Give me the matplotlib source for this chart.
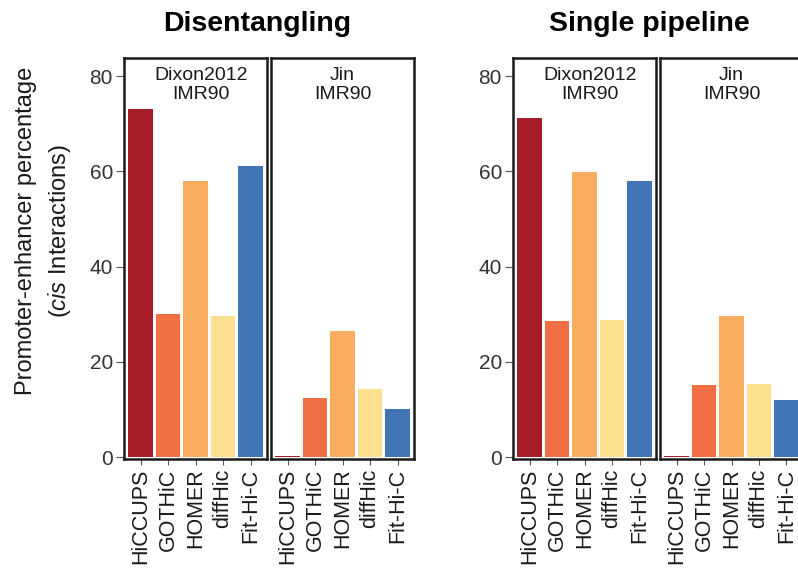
import matplotlib
matplotlib.use("Agg")
import matplotlib.pyplot as plt

plt.rcParams['font.family'] = ['Liberation Sans', 'DejaVu Sans']
plt.rcParams['mathtext.fontset'] = 'custom'
plt.rcParams['mathtext.it'] = 'Liberation Sans:italic'
plt.rcParams['mathtext.rm'] = 'Liberation Sans'

# data
tools = ["HiCCUPS", "GOTHiC", "HOMER", "diffHic", "Fit-Hi-C"]
colors = ["#a61c29", "#f16f45", "#f9ad61", "#fcdf8f", "#4275b6"]
groups = ["Disentangling", "Single pipeline"]
facets = ["Dixon2012\nIMR90", "Jin\nIMR90"]

disent_dixon = [73.0, 30.1, 57.9, 29.7, 61.2]
disent_jin = [0.2, 12.5, 26.4, 14.2, 10.2]
single_dixon = [71.3, 28.6, 59.9, 28.8, 58.0]
single_jin = [0.2, 15.2, 29.7, 15.4, 12.0]

values = [[disent_dixon, disent_jin], [single_dixon, single_jin]]
yticks = [0, 20, 40, 60, 80]

fig = plt.figure(figsize=(7.98, 5.70), dpi=100)

W, H = 798, 570
# panel boxes in pixels
group_left = [124, 513]
panel_w = 143
gap = 4
top_px, bot_px = 58, 459
title_x = [257, 649]
label_dx = [0.54, 0.5]

for g in range(2):
    for f in range(2):
        left = group_left[g] + f * (panel_w + gap)
        ax = fig.add_axes([left / W, 1 - bot_px / H, panel_w / W, (bot_px - top_px) / H])
        ax.bar(range(len(tools)), values[g][f], width=0.9, color=colors)
        ax.set_xlim(-0.6, 4.6)
        ax.set_ylim(-0.4, 83.8)
        ax.set_xticks(range(len(tools)))
        ax.set_xticklabels(tools, rotation=90, fontsize=15.5, color="#1a1a1a")
        ax.tick_params(axis='x', length=4, width=0.8, color="#555555", pad=3)
        if f == 0:
            ax.set_yticks(yticks)
            ax.tick_params(axis='y', labelsize=15, labelcolor="#333333",
                           length=6, width=0.8, color="#555555", pad=2)
        else:
            ax.set_yticks([])
        for sp in ax.spines.values():
            sp.set_linewidth(1.8)
            sp.set_color("#1a1a1a")
        ax.text(label_dx[f], 0.978, facets[f], transform=ax.transAxes,
                ha='center', va='top', fontsize=14, color="#1a1a1a",
                linespacing=1.15)
    fig.text(title_x[g] / W, 1 - 31 / H, groups[g], ha='center', va='baseline',
             fontsize=20.5, fontweight='bold')

fig.text(44 / W, 1 - 231 / H,
         "Promoter-enhancer percentage\n($\\mathit{cis}$ Interactions)",
         rotation=90, ha='center', va='center', fontsize=17, color="#1a1a1a",
         linespacing=1.45)

fig.savefig("out.png", dpi=100)
